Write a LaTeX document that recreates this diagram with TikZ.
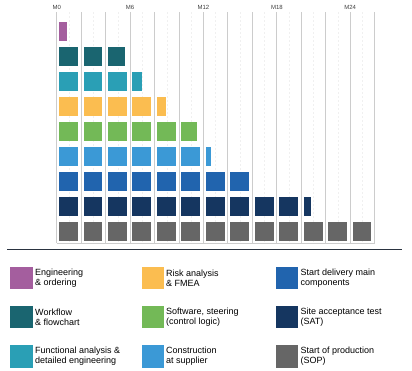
\documentclass[tikz,border=0pt]{standalone}
\usepackage{fontspec}
\setmainfont{Liberation Sans}
\definecolor{cpurple}{HTML}{A45E9E}
\definecolor{cdteal}{HTML}{1A6570}
\definecolor{cteal}{HTML}{2A9FB5}
\definecolor{cyellow}{HTML}{FBBD50}
\definecolor{cgreen}{HTML}{73B957}
\definecolor{clblue}{HTML}{3B99D6}
\definecolor{cblue}{HTML}{2164AE}
\definecolor{cnavy}{HTML}{153660}
\definecolor{cgray}{HTML}{666666}
\definecolor{crule}{HTML}{2A3340}
\tikzset{
  gridline/.style={draw=black!20, line width=0.9pt},
  gridminor/.style={draw=black!6, line width=0.5pt, dash pattern=on 2pt off 2pt},
  mlabel/.style={font=\fontsize{6}{7}\selectfont, text=black!75, inner sep=0pt},
  swatch/.style={minimum width=22.3pt, minimum height=22.3pt, inner sep=0pt, anchor=north west},
  legtext/.style={font=\fontsize{9}{10}\selectfont, text=black, align=left, inner sep=0pt, anchor=west},
  rulestyle/.style={draw=crule, line width=1pt}
}
\newcommand\xo{56.7}
\newcommand\cw{24.46}
\newcommand\barrow[4]{%
  \pgfmathsetmacro\yt{22+25*#1}
  \foreach \k in {0,...,12}{\ifnum\k<#3 \fill[#2] ({\xo+\k*\cw+2.4},\yt) rectangle ++(18.8,18.8);\fi}
  \ifdim #4pt>0pt \fill[#2] ({\xo+#3*\cw+2.4},\yt) rectangle ++(#4,18.8);\fi
}
\begin{document}
\begin{tikzpicture}[x=1pt,y=-1pt]
\useasboundingbox (0,0) rectangle (412,371);
% grid
\foreach \k in {0,...,12} \draw[gridminor] ({\xo+(\k+0.5)*\cw},12.5) -- ({\xo+(\k+0.5)*\cw},243);
\foreach \k in {0,...,13} \draw[gridline] ({\xo+\k*\cw},12.5) -- ({\xo+\k*\cw},243);
\draw[gridline] ({\xo},243) -- ({\xo+13*\cw},243);
% month labels
\foreach \m/\k in {0/0,6/3,12/6,18/9,24/12} \node[mlabel] (m\m) at ({\xo+\k*\cw},7) {M\m};
% bars
\barrow{0}{cpurple}{0}{7.7}
\barrow{1}{cdteal}{2}{16.6}
\barrow{2}{cteal}{3}{9.3}
\barrow{3}{cyellow}{4}{9}
\barrow{4}{cgreen}{5}{15.3}
\barrow{5}{clblue}{6}{5.6}
\barrow{6}{cblue}{8}{0}
\barrow{7}{cnavy}{10}{7.4}
\barrow{8}{cgray}{13}{0}
% rule
\coordinate (rl) at (7,250);
\coordinate (rr) at (402,250);
\draw[rulestyle] (rl) -- (rr);
% legend
\node[swatch, fill=cpurple] (s1) at (10,266.7) {};
\node[legtext] (t1) at (35,277.85) {Engineering\\\& ordering};
\node[swatch, fill=cdteal] (s2) at (10,305.7) {};
\node[legtext] (t2) at (35,316.85) {Workflow\\\& flowchart};
\node[swatch, fill=cteal] (s3) at (10,345) {};
\node[legtext] (t3) at (35,356.15) {Functional analysis \&\\detailed engineering};
\node[swatch, fill=cyellow] (s4) at (141.7,266.7) {};
\node[legtext] (t4) at (166,277.85) {Risk analysis\\\& FMEA};
\node[swatch, fill=cgreen] (s5) at (141.7,305.7) {};
\node[legtext] (t5) at (166,316.85) {Software, steering\\(control logic)};
\node[swatch, fill=clblue] (s6) at (141.7,345) {};
\node[legtext] (t6) at (166,356.15) {Construction\\at supplier};
\node[swatch, fill=cblue] (s7) at (275.7,266.7) {};
\node[legtext] (t7) at (300.3,277.85) {Start delivery main\\components};
\node[swatch, fill=cnavy] (s8) at (275.7,305.7) {};
\node[legtext] (t8) at (300.3,316.85) {Site acceptance test\\(SAT)};
\node[swatch, fill=cgray] (s9) at (275.7,345) {};
\node[legtext] (t9) at (300.3,356.15) {Start of production\\(SOP)};
\end{tikzpicture}
\end{document}
